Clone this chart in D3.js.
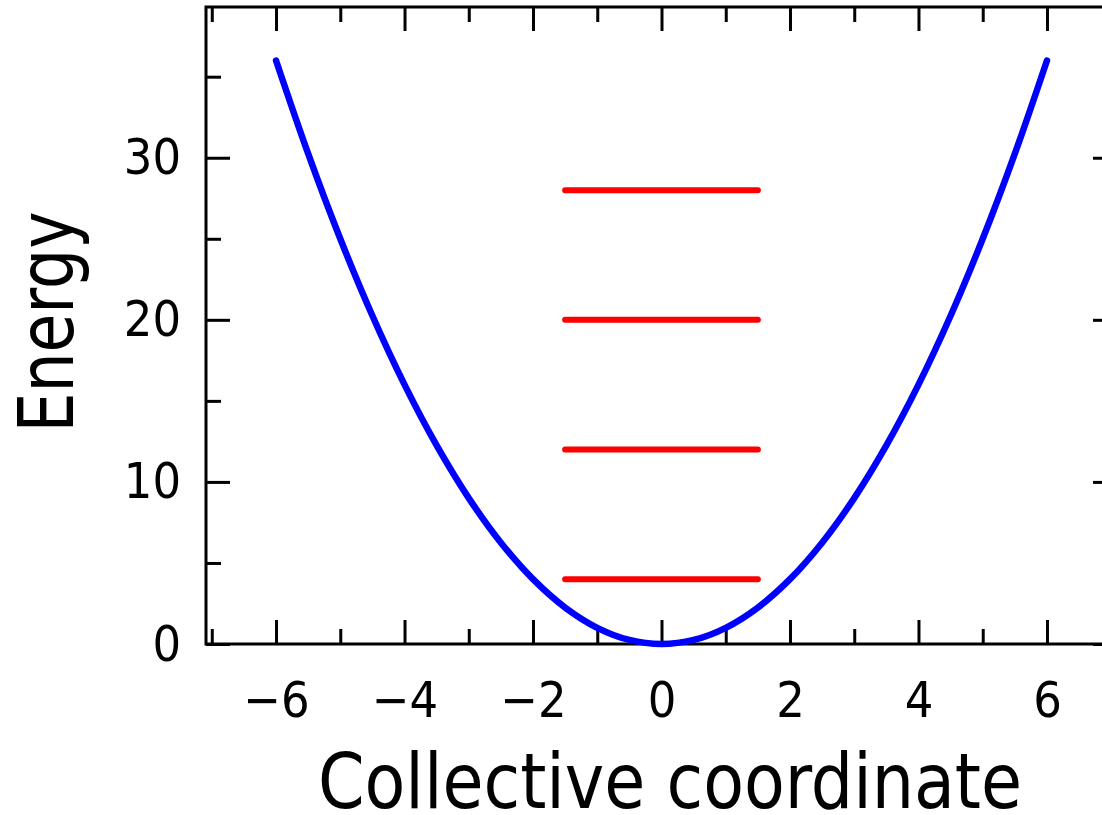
<!DOCTYPE html>
<html>
<head>
<meta charset="utf-8">
<script src="https://cdn.jsdelivr.net/npm/d3@7"></script>
<style>
  html, body { margin: 0; padding: 0; background: #fff; overflow: hidden; }
  svg { display: block; }
  text { font-family: "Liberation Sans Narrow", "DejaVu Sans Condensed", sans-serif; fill: #000; }
</style>
</head>
<body>
<svg id="chart" width="1102" height="815"></svg>
<script>
// Potential curve: collective coordinate vs energy
const coordX = [-6, -5.5, -5, -4.5, -4, -3.5, -3, -2.5, -2, -1.5, -1, -0.5, 0,
                0.5, 1, 1.5, 2, 2.5, 3, 3.5, 4, 4.5, 5, 5.5, 6];
const energy = [36, 30.25, 25, 20.25, 16, 12.25, 9, 6.25, 4, 2.25, 1, 0.25, 0,
                0.25, 1, 2.25, 4, 6.25, 9, 12.25, 16, 20.25, 25, 30.25, 36];

// Quantised levels drawn as horizontal bars
const levelEnergy = [4, 12, 20, 28];
const levelStart = [-1.5, -1.5, -1.5, -1.5];
const levelEnd = [1.5, 1.5, 1.5, 1.5];

// Tick values
const xMajorTicks = [-6, -4, -2, 0, 2, 4, 6];
const xMinorTicks = [-7, -5, -3, -1, 1, 3, 5, 7];
const yMajorTicks = [0, 10, 20, 30];
const yMinorTicks = [5, 15, 25, 35];

const svg = d3.select("#chart");

const x = d3.scaleLinear().domain([-7.09, 7.09]).range([206, 1117]);
const y = d3.scaleLinear().domain([0, 39.3]).range([644, 7]);

const majorLen = 24, minorLen = 15;
const axisW = 3;

// Frame
svg.append("rect")
  .attr("x", x.range()[0]).attr("y", y.range()[1])
  .attr("width", x.range()[1] - x.range()[0])
  .attr("height", y.range()[0] - y.range()[1])
  .attr("fill", "none").attr("stroke", "#000").attr("stroke-width", axisW);

const fmt = d => (d < 0 ? "\u2212" + Math.abs(d) : String(d));

// Bottom axis (labels + inward ticks)
const axBottom = svg.append("g").attr("transform", `translate(0,${y(0)})`);
axBottom.call(d3.axisBottom(x).tickValues(xMajorTicks).tickSize(-majorLen).tickPadding(37).tickFormat(fmt));
axBottom.append("g").call(d3.axisBottom(x).tickValues(xMinorTicks).tickSize(-minorLen).tickFormat(""));

// Top axis (ticks only)
const axTop = svg.append("g").attr("transform", `translate(0,${y.range()[1]})`);
axTop.call(d3.axisTop(x).tickValues(xMajorTicks).tickSize(-majorLen).tickFormat(""));
axTop.append("g").call(d3.axisTop(x).tickValues(xMinorTicks).tickSize(-minorLen).tickFormat(""));

// Left axis
const axLeft = svg.append("g").attr("transform", `translate(${x.range()[0]},0)`);
axLeft.call(d3.axisLeft(y).tickValues(yMajorTicks).tickSize(-majorLen).tickPadding(25).tickFormat(fmt));
axLeft.append("g").call(d3.axisLeft(y).tickValues(yMinorTicks).tickSize(-minorLen).tickFormat(""));

// Right axis
const axRight = svg.append("g").attr("transform", `translate(${x.range()[1]},0)`);
axRight.call(d3.axisRight(y).tickValues(yMajorTicks).tickSize(-majorLen).tickFormat(""));
axRight.append("g").call(d3.axisRight(y).tickValues(yMinorTicks).tickSize(-minorLen).tickFormat(""));

svg.selectAll(".domain").remove();
svg.selectAll(".tick line").attr("stroke", "#000").attr("stroke-width", axisW);
svg.selectAll(".tick text")
  .style("font-family", "'Liberation Sans Narrow', 'DejaVu Sans Condensed', sans-serif")
  .style("font-size", "50px").attr("fill", "#000");

// Potential curve
const pts = coordX.map((d, i) => [d, energy[i]]);
svg.append("path")
  .datum(pts)
  .attr("d", d3.line().x(d => x(d[0])).y(d => y(d[1])).curve(d3.curveCatmullRom))
  .attr("fill", "none").attr("stroke", "#0000ff")
  .attr("stroke-width", 6.5).attr("stroke-linecap", "round").attr("stroke-linejoin", "round");

// Energy levels
svg.append("g").selectAll("line")
  .data(levelEnergy)
  .join("line")
  .attr("x1", (d, i) => x(levelStart[i]))
  .attr("x2", (d, i) => x(levelEnd[i]))
  .attr("y1", d => y(d)).attr("y2", d => y(d))
  .attr("stroke", "#ff0000").attr("stroke-width", 6).attr("stroke-linecap", "round");

// Axis titles
svg.append("text")
  .attr("x", 670).attr("y", 808)
  .attr("text-anchor", "middle")
  .attr("textLength", 704).attr("lengthAdjust", "spacingAndGlyphs")
  .style("font-size", "76px")
  .text("Collective coordinate");

svg.append("text")
  .attr("transform", "translate(73,322) rotate(-90)")
  .attr("text-anchor", "middle")
  .attr("textLength", 221).attr("lengthAdjust", "spacingAndGlyphs")
  .style("font-size", "76px")
  .text("Energy");
</script>
</body>
</html>
